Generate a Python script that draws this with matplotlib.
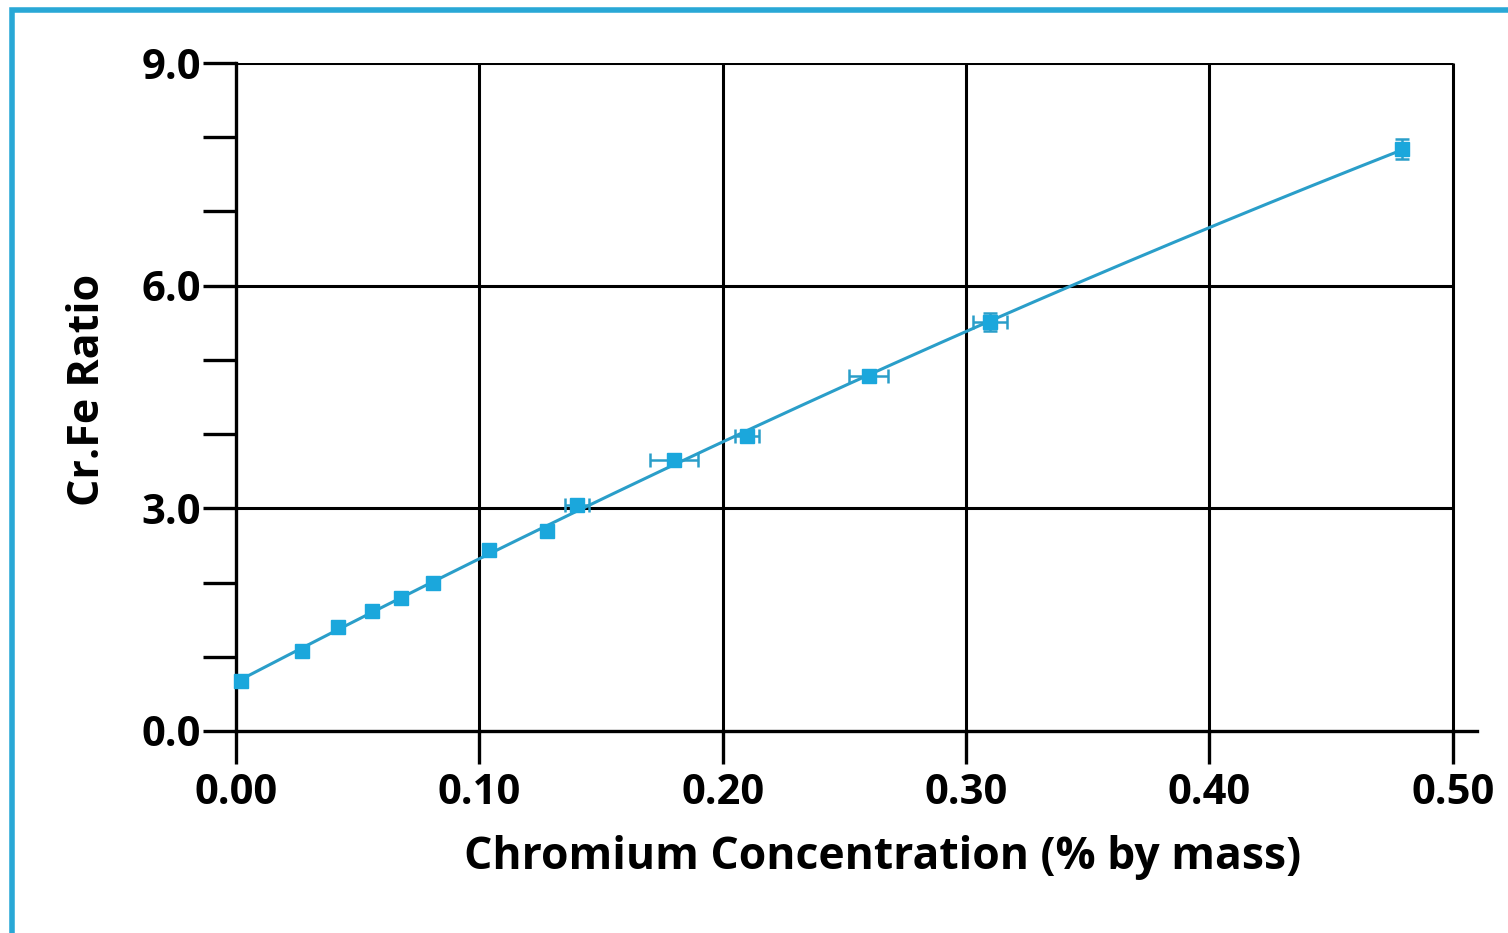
import matplotlib.pyplot as plt
import numpy as np
from matplotlib.patches import Rectangle

# data
cr_conc = [0.002, 0.027, 0.042, 0.056, 0.068, 0.081, 0.104, 0.128, 0.140,
           0.180, 0.210, 0.260, 0.310, 0.479]
cr_fe = [0.67, 1.08, 1.40, 1.62, 1.79, 1.99, 2.44, 2.70, 3.05,
         3.65, 3.97, 4.78, 5.51, 7.84]
x_err = [0.0, 0.0, 0.0, 0.0, 0.0, 0.0, 0.0, 0.0, 0.005,
         0.0098, 0.005, 0.008, 0.007, 0.0]
y_err = [0.0, 0.0, 0.0, 0.0, 0.0, 0.0, 0.0, 0.0, 0.0,
         0.03, 0.05, 0.04, 0.12, 0.14]
x_ticks = [0.0, 0.1, 0.2, 0.3, 0.4, 0.5]
y_ticks = [0.0, 3.0, 6.0, 9.0]
y_minor = [1, 2, 4, 5, 7, 8]

blue = '#1ba7dc'
line_blue = '#2a9ec9'

plt.rcParams['font.family'] = ['Open Sans', 'DejaVu Sans']
plt.rcParams['font.weight'] = 'bold'

fig = plt.figure(figsize=(15.08, 9.33), dpi=100)
fig.patches.append(Rectangle((12 / 1508, -0.1), 1.2, (933 - 10) / 933 + 0.1,
                             transform=fig.transFigure, fill=False,
                             edgecolor='#29a8d6', lw=4, zorder=0))

ax = fig.add_axes([236 / 1508, 1 - 731 / 933, (1477 - 236) / 1508, (731 - 63) / 933])
ax.set_xlim(0, 0.51)
ax.set_ylim(0, 9)

for s in ['top', 'right']:
    ax.spines[s].set_visible(False)
for s in ['left', 'bottom']:
    ax.spines[s].set_linewidth(2.4)

# grid drawn from the tick values
ax.hlines(y_ticks[1:], 0, x_ticks[-1], colors='black', lw=2.2, zorder=1)
ax.vlines(x_ticks[1:], 0, y_ticks[-1], colors='black', lw=2.2, zorder=1)

# smooth calibration curve (quadratic fit)
coef = np.polyfit(cr_conc, cr_fe, 2)
xf = np.linspace(min(cr_conc), max(cr_conc), 200)
ax.plot(xf, np.polyval(coef, xf), color=line_blue, lw=2.2, zorder=2)

ax.errorbar(cr_conc, cr_fe, xerr=x_err, yerr=y_err, fmt='s', color=blue,
            ms=10, ecolor=line_blue, elinewidth=1.8, capsize=5, capthick=1.8,
            zorder=3, clip_on=False)

ax.set_xticks(x_ticks)
ax.set_xticklabels([f'{v:.2f}' for v in x_ticks])
ax.set_yticks(y_ticks)
ax.set_yticklabels([f'{v:.1f}' for v in y_ticks])
ax.set_yticks(y_minor, minor=True)
ax.tick_params(axis='both', which='both', direction='out', length=24, width=2.4,
               labelsize=30, pad=6)
ax.tick_params(axis='y', which='major', pad=1)

ax.set_xlabel('Chromium Concentration (% by mass)', fontsize=32, fontweight='bold')
ax.set_ylabel('Cr.Fe Ratio', fontsize=31, fontweight='bold')
ax.xaxis.set_label_coords(0.521, -0.155)
ax.yaxis.set_label_coords(-0.102, 0.51)

fig.savefig('out.png', dpi=100)
